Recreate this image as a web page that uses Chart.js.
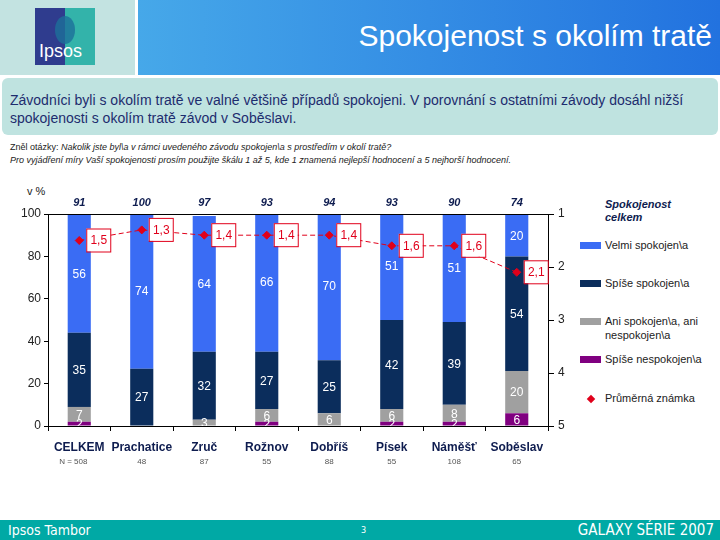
<!DOCTYPE html>
<html>
<head>
<meta charset="utf-8">
<script src="https://cdn.jsdelivr.net/npm/chart.js@4.4.0/dist/chart.umd.min.js"></script>
<style>
  body { margin: 0; width: 720px; height: 540px; position: relative; background: #fff; overflow: hidden;
         font-family: "Liberation Sans", Arial, sans-serif; }
  .abs { position: absolute; }
  #hdrLeft { left: 0; top: 0; width: 135px; height: 75px; background: #c3e3e1; }
  #logo { left: 35px; top: 8px; width: 60px; height: 57px; overflow: hidden;
          background: linear-gradient(90deg, #2f3c8e 0 50%, #33b3aa 50% 100%); }
  #logo .face { position: absolute; left: 20px; top: 8px; width: 20px; height: 28px; border-radius: 50%;
                background: #1d6f9a; opacity: .8; }
  #logo .txt { position: absolute; left: 4px; bottom: 3px; color: #fff; font-size: 18px; }
  #hdrRight { left: 138px; top: 0; width: 582px; height: 75px;
              background: linear-gradient(90deg, #46a8e9, #2272df); }
  #title { right: 8px; top: 19px; color: #fff; font-size: 30px; white-space: nowrap; }
  #note { left: 2px; top: 78px; width: 716px; height: 57px; background: #bfe3e0; border-radius: 6px; }
  #note p { margin: 0; position: absolute; left: 8px; top: 13px; color: #1d2c6e; font-size: 14px; line-height: 18px; width: 705px; }
  #question { left: 10px; top: 141px; font-size: 9px; color: #222; line-height: 13px; font-style: italic; white-space: nowrap; }
  #question span { font-style: normal; }
  #vpct { left: 27px; top: 185px; font-size: 11px; color: #222; }
  #chartBox { left: 0; top: 180px; width: 580px; height: 300px; }
  #legend { left: 580px; top: 198px; width: 140px; font-size: 11px; color: #222; }
  #legend .ttl { position: absolute; left: 25px; top: 0; font-weight: bold; font-style: italic; color: #0e1c4f; line-height: 13px; }
  #legend .sw { position: absolute; left: 0; width: 21px; height: 7px; }
  #legend .lbl { position: absolute; left: 25px; white-space: nowrap; line-height: 14px; }
  #legend .dia { position: absolute; left: 8px; width: 6px; height: 6px; background: #e0001b; transform: rotate(45deg); }
  #footer { left: 0; top: 520px; width: 720px; height: 20px; background: #00a9a5; color: #fff;
            font-family: "Liberation Sans Narrow", "DejaVu Sans Condensed", sans-serif; }
  #footer .l { position: absolute; left: 8px; top: 2px; font-size: 14px; }
  #footer .c { position: absolute; left: 361px; top: 5px; font-size: 9px; }
  #footer .r { position: absolute; right: 6px; top: 1px; font-size: 15px; }
</style>
</head>
<body>
<div id="hdrLeft" class="abs"></div>
<div id="logo" class="abs"><div class="face"></div><div class="txt">Ipsos</div></div>
<div id="hdrRight" class="abs"><div id="title" class="abs">Spokojenost s okolím tratě</div></div>
<div id="note" class="abs"><p>Závodníci byli s okolím tratě ve valné většině případů spokojeni. V porovnání s ostatními závody dosáhl nižší spokojenosti s okolím tratě závod v Soběslavi.</p></div>
<div id="question" class="abs"><span>Zněl otázky:</span> Nakolik jste byl\a v rámci uvedeného závodu spokojen\a s prostředím v okolí tratě?<br>Pro vyjádření míry Vaší spokojenosti prosím použijte škálu 1 až 5, kde 1 znamená nejlepší hodnocení a 5 nejhorší hodnocení.</div>
<div id="vpct" class="abs">v %</div>
<div id="chartBox" class="abs"><canvas id="chart" width="580" height="300"></canvas></div>
<div id="legend" class="abs">
  <div class="ttl">Spokojenost<br>celkem</div>
  <div class="sw" style="top:44px;background:#3a6cf4"></div><div class="lbl" style="top:40px">Velmi spokojen\a</div>
  <div class="sw" style="top:82px;background:#0b2d5c"></div><div class="lbl" style="top:78px">Spíše spokojen\a</div>
  <div class="sw" style="top:120px;background:#a0a0a0"></div><div class="lbl" style="top:116px">Ani spokojen\a, ani<br>nespokojen\a</div>
  <div class="sw" style="top:158px;background:#800080"></div><div class="lbl" style="top:154px">Spíše nespokojen\a</div>
  <div class="dia" style="top:198px"></div><div class="lbl" style="top:193px">Průměrná známka</div>
</div>
<div id="footer" class="abs"><span class="l">Ipsos Tambor</span><span class="c">3</span><span class="r">GALAXY SÉRIE 2007</span></div>

<script>
const categories = ['CELKEM', 'Prachatice', 'Zruč', 'Rožnov', 'Dobříš', 'Písek', 'Náměšť', 'Soběslav'];
const sampleSizes = ['N = 508', '48', '87', '55', '88', '55', '108', '65'];
const totalSatisfied = [91, 100, 97, 93, 94, 93, 90, 74];
const verySatisfied = [56, 74, 64, 66, 70, 51, 51, 20];
const ratherSatisfied = [35, 27, 32, 27, 25, 42, 39, 54];
const neutral = [7, 0, 3, 6, 6, 6, 8, 20];
const ratherDissatisfied = [2, 0, 0, 2, 0, 2, 2, 6];
const meanMark = [1.5, 1.3, 1.4, 1.4, 1.4, 1.6, 1.6, 2.1];

const RED = '#e0001b';

const extrasPlugin = {
    id: 'extras',
    afterDatasetsDraw(chart) {
        const ctx = chart.ctx;
        const area = chart.chartArea;
        const xs = chart.scales.x;
        ctx.save();
        // top border line
        ctx.strokeStyle = '#000';
        ctx.lineWidth = 1;
        ctx.beginPath();
        ctx.moveTo(area.left, area.top + 0.5);
        ctx.lineTo(area.right, area.top + 0.5);
        ctx.stroke();

        // labels inside bars
        ctx.save();
        ctx.beginPath();
        ctx.rect(area.left, area.top, area.right - area.left, area.bottom - area.top);
        ctx.clip();
        ctx.font = '12px "Liberation Sans", Arial, sans-serif';
        ctx.fillStyle = '#fff';
        ctx.textAlign = 'center';
        ctx.textBaseline = 'middle';
        chart.data.datasets.forEach((ds, di) => {
            if (ds.type === 'line') return;
            chart.getDatasetMeta(di).data.forEach((el, i) => {
                if (ds.data[i] > 0) {
                    ctx.fillText(ds.data[i], el.x, (el.y + el.base) / 2 + 1);
                }
            });
        });
        ctx.restore();

        // mean mark labels
        const lineIdx = chart.data.datasets.findIndex(d => d.type === 'line');
        chart.getDatasetMeta(lineIdx).data.forEach((pt, i) => {
            const bx = pt.x + 7, by = pt.y - 12, bw = 24, bh = 23;
            ctx.fillStyle = '#fff';
            ctx.fillRect(bx, by, bw, bh);
            ctx.strokeStyle = RED;
            ctx.lineWidth = 1;
            ctx.strokeRect(bx + 0.5, by + 0.5, bw, bh);
            ctx.fillStyle = RED;
            ctx.font = '12px "Liberation Sans", Arial, sans-serif';
            ctx.textAlign = 'center';
            ctx.textBaseline = 'middle';
            ctx.fillText(meanMark[i].toFixed(1).replace('.', ','), bx + bw / 2 + 0.5, by + bh / 2 + 1);
        });

        // totals above bars and N below labels
        ctx.textAlign = 'center';
        ctx.textBaseline = 'middle';
        categories.forEach((c, i) => {
            const x = xs.getPixelForValue(i);
            ctx.fillStyle = '#0e1c4f';
            ctx.font = 'italic bold 11px "Liberation Sans", Arial, sans-serif';
            ctx.fillText(totalSatisfied[i], x, area.top - 11);
            ctx.fillStyle = '#555';
            ctx.font = '8px "Liberation Sans", Arial, sans-serif';
            ctx.fillText(sampleSizes[i], x - (i === 0 ? 6 : 0), area.bottom + 36);
        });
        ctx.restore();
    }
};

new Chart(document.getElementById('chart'), {
    data: {
        labels: categories,
        datasets: [
            {
                type: 'line',
                label: 'Průměrná známka',
                data: meanMark,
                yAxisID: 'y1',
                order: 0,
                borderColor: RED,
                borderWidth: 1,
                borderDash: [5, 3],
                pointStyle: 'rectRot',
                pointRadius: 4,
                pointBackgroundColor: RED,
                pointBorderColor: RED,
                tension: 0
            },
            { type: 'bar', label: 'Spíše nespokojen\\a', data: ratherDissatisfied, backgroundColor: '#800080', order: 1, stack: 's' },
            { type: 'bar', label: 'Ani spokojen\\a, ani nespokojen\\a', data: neutral, backgroundColor: '#a0a0a0', order: 1, stack: 's' },
            { type: 'bar', label: 'Spíše spokojen\\a', data: ratherSatisfied, backgroundColor: '#0b2d5c', order: 1, stack: 's' },
            { type: 'bar', label: 'Velmi spokojen\\a', data: verySatisfied, backgroundColor: '#3a6cf4', order: 1, stack: 's' }
        ]
    },
    options: {
        responsive: false,
        animation: false,
        categoryPercentage: 1,
        barPercentage: 0.37,
        layout: { padding: { top: 34, left: 0, right: 0, bottom: 0 } },
        plugins: {
            legend: { display: false },
            tooltip: { enabled: false }
        },
        scales: {
            x: {
                stacked: true,
                afterFit: (s) => { s.height = 54; },
                grid: { drawOnChartArea: false, drawTicks: true, tickLength: 5, color: '#000', offset: true },
                border: { color: '#000' },
                ticks: {
                    padding: 9,
                    color: '#0e1c4f',
                    font: { size: 12, weight: 'bold', family: '"Liberation Sans", Arial, sans-serif' },
                    maxRotation: 0,
                    autoSkip: false
                }
            },
            y: {
                stacked: true,
                min: 0,
                max: 100,
                afterFit: (s) => { s.width = 48; },
                grid: { drawOnChartArea: false, drawTicks: true, tickLength: 4, color: '#000' },
                border: { color: '#000' },
                ticks: { stepSize: 20, padding: 3, color: '#222', font: { size: 12 } }
            },
            y1: {
                position: 'right',
                reverse: true,
                min: 1,
                max: 5,
                afterFit: (s) => { s.width = 32; },
                grid: { drawOnChartArea: false, drawTicks: true, tickLength: 6, color: '#000' },
                border: { color: '#000' },
                ticks: { stepSize: 1, padding: 4, color: '#222', font: { size: 12 } }
            }
        }
    },
    plugins: [extrasPlugin]
});
</script>
</body>
</html>
